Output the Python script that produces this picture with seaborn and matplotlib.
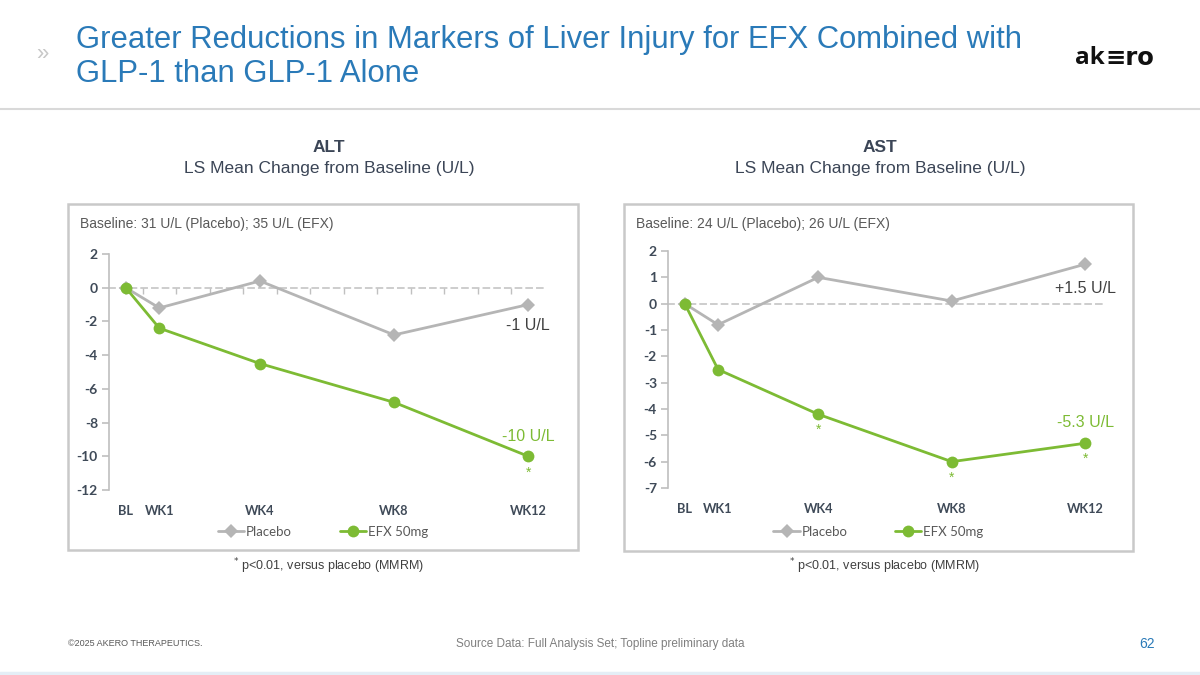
import matplotlib
matplotlib.use("Agg")
import matplotlib.pyplot as plt
import seaborn as sns
import pandas as pd
from matplotlib.patches import Rectangle
from matplotlib.lines import Line2D

# ---------------- data ----------------
weeks = [0, 1, 4, 8, 12]
week_labels = ["BL", "WK1", "WK4", "WK8", "WK12"]
groups = ["Placebo", "EFX 50mg"]

alt_placebo = [0, -1.2, 0.4, -2.8, -1.0]
alt_efx = [0, -2.4, -4.5, -6.8, -10.0]
alt_yticks = [2, 0, -2, -4, -6, -8, -10, -12]

ast_placebo = [0, -0.8, 1.0, 0.1, 1.5]
ast_efx = [0, -2.5, -4.2, -6.0, -5.3]
ast_yticks = [2, 1, 0, -1, -2, -3, -4, -5, -6, -7]

alt_sig_weeks = [12]
ast_sig_weeks = [4, 8, 12]

alt_end_labels = ["-1 U/L", "-10 U/L"]
ast_end_labels = ["+1.5 U/L", "-5.3 U/L"]

# ---------------- style ----------------
sns.set_theme(style="white")
plt.rcParams["font.family"] = ["Liberation Sans", "DejaVu Sans"]

GRAY = "#b5b5b5"
GREEN = "#7dbb34"
TXT = "#404040"
TICK = "#3f4a58"
BLUE = "#2a7ab8"

fig = plt.figure(figsize=(12, 6.75), dpi=100)
W, H = 1200, 675


def fx(px):
    return px / W


def fy(py):
    return 1 - py / H


# header
fig.text(fx(76), fy(40), "Greater Reductions in Markers of Liver Injury for EFX Combined with",
         fontsize=22.3, color=BLUE, va="center", ha="left")
fig.text(fx(76), fy(74), "GLP-1 than GLP-1 Alone", fontsize=22.3, color=BLUE, va="center", ha="left")
fig.text(fx(42), fy(55), "»", fontsize=16, color="#c8c8c8", va="center", ha="center")
fig.text(fx(1105), fy(58), "ak", fontsize=17.5, fontweight="bold", color="#111111",
         va="center", ha="right", family=["Open Sans", "DejaVu Sans"])
fig.text(fx(1105), fy(58), "≡ro", fontsize=17.5, fontweight="bold", color="#111111",
         va="center", ha="left", family=["DejaVu Sans"])
fig.add_artist(Line2D([0, 1], [fy(109), fy(109)], color="#d9d9d9", lw=1.5))

# footer
fig.text(fx(68), fy(644), "©2025 AKERO THERAPEUTICS.", fontsize=6.5, color="#595959", va="center")
fig.text(fx(600), fy(644), "Source Data: Full Analysis Set; Topline preliminary data",
         fontsize=8.5, color="#7f7f7f", va="center", ha="center")
fig.text(fx(1147), fy(644), "62", fontsize=10, color=BLUE, va="center", ha="center")
fig.add_artist(Line2D([0, 1], [fy(673), fy(673)], color="#e4eef6", lw=2.5))

panels = [
    dict(name="ALT", placebo=alt_placebo, efx=alt_efx, yticks=alt_yticks,
         baseline="Baseline: 31 U/L (Placebo); 35 U/L (EFX)", sig=alt_sig_weeks,
         ends=alt_end_labels, box=(68, 204, 578, 550), ax=(109, 254, 545, 490),
         title_x=329, end_off=(-21, 20), zero_ticks=True),
    dict(name="AST", placebo=ast_placebo, efx=ast_efx, yticks=ast_yticks,
         baseline="Baseline: 24 U/L (Placebo); 26 U/L (EFX)", sig=ast_sig_weeks,
         ends=ast_end_labels, box=(624, 204, 1133, 551), ax=(668, 251, 1102, 488),
         title_x=880, end_off=(-24, 21), zero_ticks=False),
]

for p in panels:
    x0, y0, x1, y1 = p["box"]
    fig.add_artist(Rectangle((fx(x0), fy(y1)), fx(x1 - x0), (y1 - y0) / H,
                             fill=False, edgecolor="#c9c9c9", lw=1.8))
    fig.text(fx(p["title_x"]), fy(148), p["name"], fontsize=12.5, fontweight="bold",
             color="#3b4556", ha="center", va="center")
    fig.text(fx(p["title_x"]), fy(169), "LS Mean Change from Baseline (U/L)", fontsize=12.5,
             color="#3b4556", ha="center", va="center")
    fig.text(fx(x0 + 12), fy(224), p["baseline"], fontsize=10, color="#595959", va="center")
    fig.text(fx((x0 + x1) / 2 + 6), fy(566), "$^{*}$ p<0.01, versus placebo (MMRM)", fontsize=9,
             color=TXT, ha="center", va="center")

    ax0, ay0, ax1, ay1 = p["ax"]
    ax = fig.add_axes([fx(ax0), fy(ay1), fx(ax1 - ax0), (ay1 - ay0) / H])
    df = pd.DataFrame({
        "week": weeks + weeks,
        "value": p["placebo"] + p["efx"],
        "group": [groups[0]] * len(weeks) + [groups[1]] * len(weeks),
    })
    sns.lineplot(data=df, x="week", y="value", hue="group", style="group",
                 palette={groups[0]: GRAY, groups[1]: GREEN},
                 markers={groups[0]: "D", groups[1]: "o"}, dashes=False,
                 markersize=8.5, markeredgewidth=0, linewidth=2, ax=ax, legend=True,
                 zorder=3)
    for ln in ax.lines:
        if ln.get_marker() == "D":
            ln.set_markersize(7)

    ymin, ymax = min(p["yticks"]), max(p["yticks"])
    ax.set_xlim(-0.5, 12.5)
    ax.set_ylim(ymin, ymax)
    ax.set_xticks(weeks)
    ax.set_xticklabels(week_labels)
    ax.set_yticks(p["yticks"])
    ax.set_yticklabels([str(t) for t in p["yticks"]])
    ax.set_xlabel("")
    ax.set_ylabel("")
    for s in ["top", "right", "bottom"]:
        ax.spines[s].set_visible(False)
    ax.spines["left"].set_color("#bfbfbf")
    ax.spines["left"].set_linewidth(1.2)
    ax.tick_params(axis="y", length=5, width=1.2, color="#bfbfbf", pad=3, labelsize=10,
                   labelcolor=TICK, left=True)
    ax.tick_params(axis="x", length=0, pad=11, labelsize=9.2, labelcolor=TICK)
    for lab in ax.get_xticklabels() + ax.get_yticklabels():
        lab.set_fontweight("bold")
        lab.set_family(["Lato", "DejaVu Sans"])

    # dashed zero line as a secondary axis
    frac = (0 - ymin) / (ymax - ymin)
    sec = ax.secondary_xaxis(frac)
    for sp in sec.spines.values():
        sp.set_linestyle((0, (4, 3)))
        sp.set_color("#c0c0c0")
        sp.set_linewidth(1.1)
    sec.set_zorder(0.5)
    if p["zero_ticks"]:
        sec.set_xticks([w + 0.5 for w in range(12)])
        sec.tick_params(axis="x", direction="in", length=4, width=1, color="#c0c0c0",
                        labelbottom=False, labeltop=False)
    else:
        sec.set_xticks([])
    sec.set_xticklabels([])

    # end labels
    off_pl, off_efx = p["end_off"]
    ax.annotate(p["ends"][0], (weeks[-1], p["placebo"][-1]), xytext=(0, off_pl),
                textcoords="offset pixels", ha="center", va="center", fontsize=11.5,
                color=TXT, annotation_clip=False)
    ax.annotate(p["ends"][1], (weeks[-1], p["efx"][-1]), xytext=(0, off_efx),
                textcoords="offset pixels", ha="center", va="center", fontsize=11.5,
                color=GREEN, annotation_clip=False)
    for w in p["sig"]:
        v = p["efx"][weeks.index(w)]
        ax.annotate("*", (w, v), xytext=(0, -16), textcoords="offset pixels", ha="center",
                    va="center", fontsize=10, color=GREEN, annotation_clip=False)

    handles, labels = ax.get_legend_handles_labels()
    ax.legend(handles, labels, loc="center", bbox_to_anchor=((x0 + x1) / 2 / W, fy(532)),
              bbox_transform=fig.transFigure, ncol=2, frameon=False,
              handlelength=2.0, columnspacing=3.6, handletextpad=0.15,
              prop={"family": ["Lato", "DejaVu Sans"], "size": 9.5},
              labelcolor="#595959")

fig.savefig("out.png", dpi=100)
